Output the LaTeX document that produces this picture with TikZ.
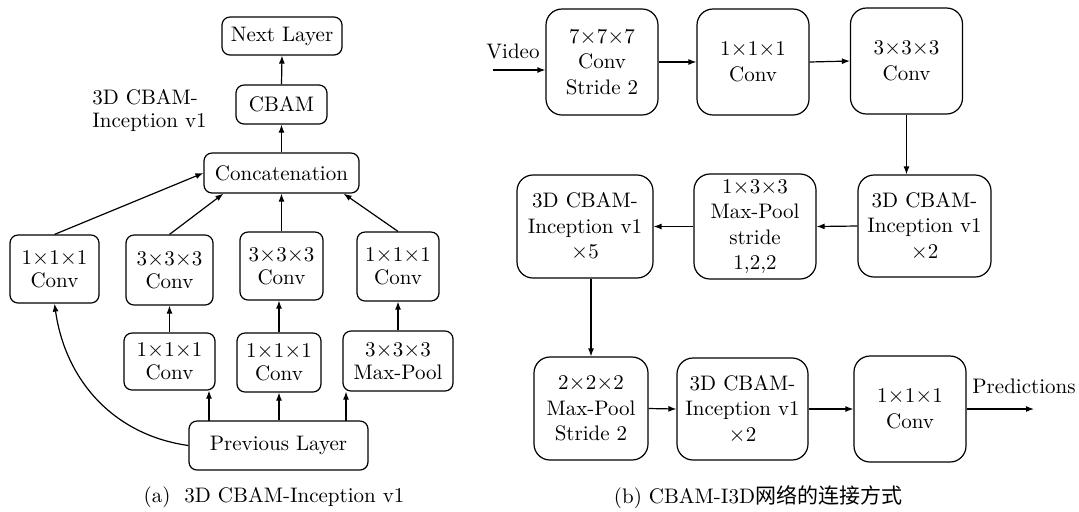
\documentclass[tikz,border=0pt]{standalone}
\usepackage{fontspec}
\newfontfamily\cjkfont{Noto Sans CJK SC}
\usetikzlibrary{arrows.meta}
\tikzset{
  lbox/.style 2 args={draw, rounded corners=4pt, line width=0.6pt, align=center,
    inner sep=0pt, minimum width=#1*0.5pt, minimum height=#2*0.5pt,
    font=\fontsize{10.5}{11.5}\selectfont},
  rbox/.style 2 args={draw, rounded corners=8pt, line width=0.6pt, align=center,
    inner sep=0pt, minimum width=#1*0.5pt, minimum height=#2*0.5pt,
    font=\fontsize{10.5}{12.8}\selectfont},
  arr/.style={-{Latex[length=4pt,width=3pt]}, line width=0.6pt},
  lbl/.style={inner sep=0pt, font=\fontsize{10.5}{11.5}\selectfont},
}
\begin{document}
\begin{tikzpicture}[x=0.5pt, y=-0.5pt]
\useasboundingbox (0,0) rectangle (1079,511);

% ---------- (a) 3D CBAM-Inception v1 block ----------
\node[lbox={120}{38}] (next) at (282,36) {Next Layer};
\node[lbox={91}{39}] (cbam) at (281.5,104.5) {CBAM};
\node[lbl, align=left, anchor=west] (title) at (92,111) {3D CBAM-\\Inception v1};
\node[lbox={155}{40}] (concat) at (281.5,173) {Concatenation};

\node[lbox={89}{68}] (c1) at (54.5,269) {1$\times$1$\times$1\\Conv};
\node[lbox={87}{70}] (c2) at (169.5,270) {3$\times$3$\times$3\\Conv};
\node[lbox={83}{68}] (c3) at (281.5,266) {3$\times$3$\times$3\\Conv};
\node[lbox={82}{69}] (c4) at (398,266.5) {1$\times$1$\times$1\\Conv};

\node[lbox={91}{57}] (d2) at (169.5,361.5) {1$\times$1$\times$1\\Conv};
\node[lbox={84}{59}] (d3) at (279,362.5) {1$\times$1$\times$1\\Conv};
\node[lbox={110}{60}] (d4) at (398,361) {3$\times$3$\times$3\\Max-Pool};

\node[lbox={179}{49}] (prev) at (278.5,445.5) {Previous Layer};

\coordinate (p2) at (209,421);
\coordinate (p4) at (346,421);
\draw[arr] (p2) -- (p2 |- d2.south);
\draw[arr] (prev.north -| d3.south) -- (d3.south);
\draw[arr] (p4) -- (p4 |- d4.south);
\draw[arr] (prev.west) to[out=172, in=-82] (c1.south);

\draw[arr] (d2.north) -- (c2.south);
\draw[arr] (d3.north) -- (d3.north |- c3.south);
\draw[arr] (d4.north) -- (c4.south);

\draw[arr] (c1.north) -- (concat.west);
\draw[arr] (c2.north) -- ([xshift=10pt]concat.south west);
\draw[arr] (c3.north) -- (c3.north |- concat.south);
\draw[arr] (c4.north) -- ([xshift=-8pt]concat.south east);
\draw[arr] (concat.north) -- (cbam.south);
\draw[arr] (cbam.north) -- (next.south);

\node[lbl] (capa) at (274,497) {(a)\ \ 3D CBAM-Inception v1};

% ---------- (b) CBAM-I3D network ----------
\node[rbox={112}{106}] (b1) at (602,62) {7$\times$7$\times$7\\Conv\\Stride 2};
\node[rbox={112}{106}] (b2) at (753,62) {1$\times$1$\times$1\\Conv};
\node[rbox={112}{106}] (b3) at (906.5,61) {3$\times$3$\times$3\\Conv};

\node[rbox={133}{102}] (b4) at (924.5,226) {3D CBAM-\\Inception v1\\$\times$2};
\node[rbox={122}{105}] (b5) at (755,226.5) {1$\times$3$\times$3\\Max-Pool\\stride\\1,2,2};
\node[rbox={136}{103}] (b6) at (585,226.5) {3D CBAM-\\Inception v1\\$\times$5};

\node[rbox={114}{103}] (b7) at (591,408.5) {2$\times$2$\times$2\\Max-Pool\\Stride 2};
\node[rbox={131}{102}] (b8) at (742.5,409) {3D CBAM-\\Inception v1\\$\times$2};
\node[rbox={112}{106}] (b9) at (910,409) {1$\times$1$\times$1\\Conv};

\node[lbl] (video) at (513,51) {Video};
\coordinate (vin) at (493,70);
\draw[arr] (vin) -- (vin -| b1.west);
\draw[arr] (b1.east) -- (b2.west);
\draw[arr] (b2.east) -- (b3.west);
\draw[arr] (b3.south) -- (b3.south |- b4.north);
\draw[arr] (b4.west) -- (b5.east);
\draw[arr] (b5.west) -- (b6.east);
\draw[arr] (b7.north |- b6.south) -- (b7.north);
\draw[arr] (b7.east) -- (b8.west);
\draw[arr] (b8.east) -- (b9.west);
\coordinate (out) at (1034,409);
\draw[arr] (b9.east) -- (out);
\node[lbl] (pred) at (1024,386) {Predictions};

\node[lbl] (capb) at (758,497) {(b) CBAM-I3D{\cjkfont 网络的连接方式}};
\end{tikzpicture}
\end{document}
